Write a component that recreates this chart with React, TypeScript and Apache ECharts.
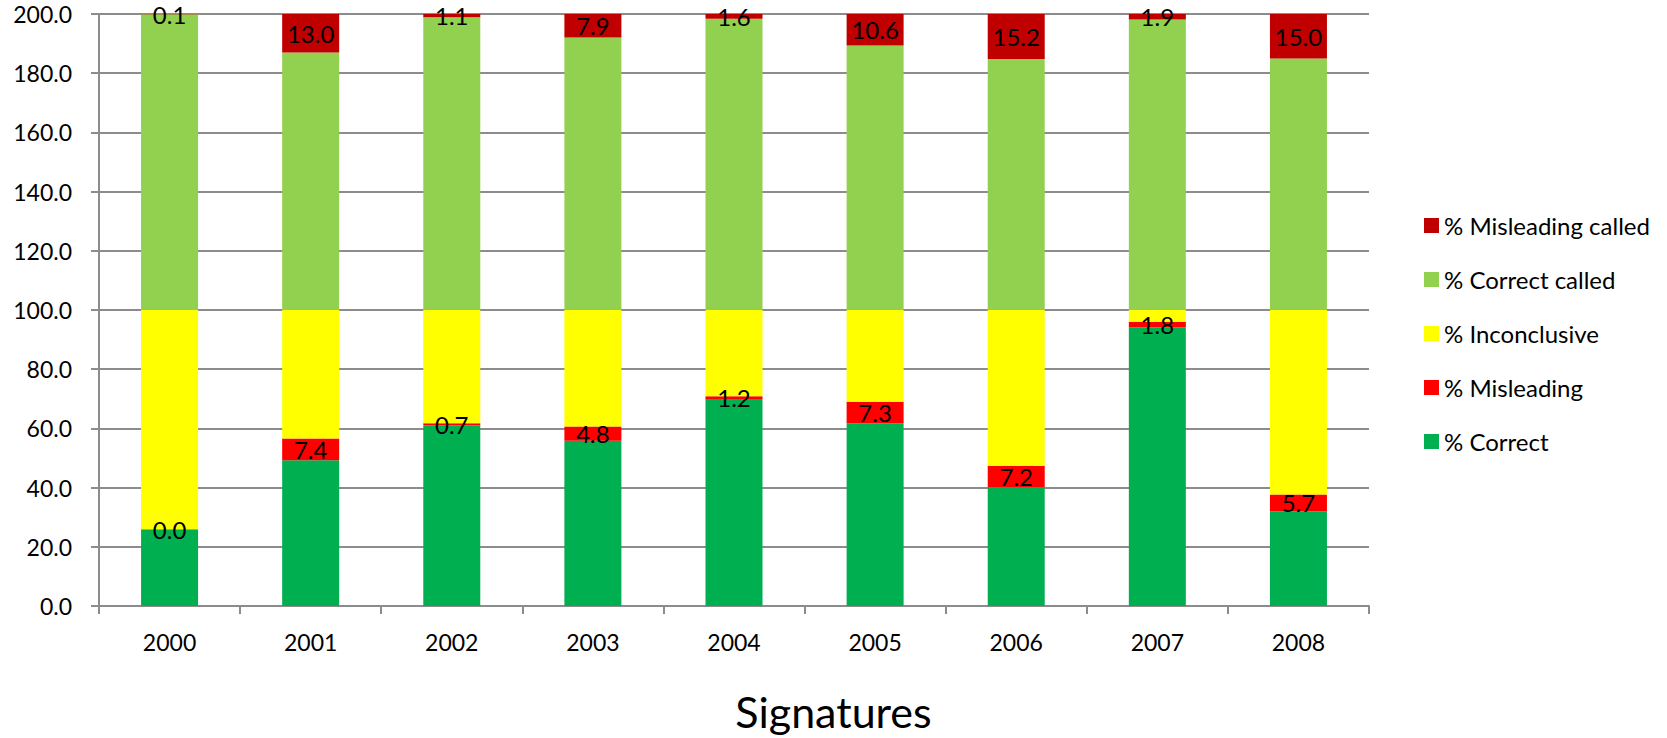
import React, { useEffect, useRef } from "react";
import * as echarts from "echarts";

const years = ["2000", "2001", "2002", "2003", "2004", "2005", "2006", "2007", "2008"];
const correct = [25.9, 49.2, 61.0, 55.8, 69.7, 61.7, 40.2, 94.2, 32.0];
const misleading = [0.0, 7.4, 0.7, 4.8, 1.2, 7.3, 7.2, 1.8, 5.7];
const inconclusive = [74.1, 43.4, 38.3, 39.4, 29.1, 31.0, 52.6, 4.0, 62.3];
const correctCalled = [99.9, 87.0, 98.9, 92.1, 98.4, 89.4, 84.8, 98.1, 85.0];
const misleadingCalled = [0.1, 13.0, 1.1, 7.9, 1.6, 10.6, 15.2, 1.9, 15.0];

const FONT = "Lato, 'Open Sans', sans-serif";
const GRAY = "#8c8c8c";

export default function App() {
  const ref = useRef<HTMLDivElement>(null);
  useEffect(() => {
    if (!ref.current) return;
    const chart = echarts.init(ref.current, null, { renderer: "svg" });
    const label = {
      show: true,
      position: "inside",
      color: "#000",
      fontFamily: FONT,
      fontSize: 24,
      formatter: (p: any) => Number(p.value).toFixed(1),
    };
    const mk = (name: string, data: number[], color: string, withLabel: boolean) => ({
      name,
      type: "bar",
      stack: "total",
      barWidth: 57,
      data,
      itemStyle: { color },
      label: withLabel ? label : { show: false },
      emphasis: { disabled: true },
    });
    chart.setOption({
      animation: false,
      backgroundColor: "#fff",
      textStyle: { fontFamily: FONT },
      grid: { left: 99, right: 298, top: 14, bottom: 132, containLabel: false },
      title: {
        text: "Signatures",
        left: "center",
        top: 686,
        padding: 0,
        textStyle: { fontFamily: FONT, fontSize: 43, lineHeight: 50, fontWeight: "normal", color: "#000" },
      },
      legend: {
        orient: "vertical",
        left: 1419,
        top: 208,
        itemWidth: 15,
        itemHeight: 15,
        itemGap: 29,
        icon: "rect",
        data: ["% Misleading called", "% Correct called", "% Inconclusive", "% Misleading", "% Correct"],
        textStyle: { fontFamily: FONT, fontSize: 24, lineHeight: 25, color: "#000", padding: [0, 0, 0, 0] },
        selectedMode: false,
      },
      xAxis: {
        type: "category",
        data: years,
        boundaryGap: true,
        axisLine: { show: true, lineStyle: { color: GRAY, width: 2 } },
        axisTick: { show: true, length: 8, alignWithLabel: false, lineStyle: { color: GRAY, width: 2 } },
        axisLabel: { color: "#000", fontFamily: FONT, fontSize: 23, margin: 24 },
        splitLine: { show: false },
      },
      yAxis: {
        type: "value",
        min: 0,
        max: 200,
        interval: 20,
        axisLine: { show: true, lineStyle: { color: GRAY, width: 2 } },
        axisTick: { show: true, length: 8, lineStyle: { color: GRAY, width: 2 } },
        axisLabel: {
          color: "#000",
          fontFamily: FONT,
          fontSize: 23,
          margin: 27,
          formatter: (v: number) => v.toFixed(1),
        },
        splitLine: { show: true, lineStyle: { color: GRAY, width: 2 } },
      },
      series: [
        mk("% Correct", correct, "#00B050", false),
        mk("% Misleading", misleading, "#FF0000", true),
        mk("% Inconclusive", inconclusive, "#FFFF00", false),
        mk("% Correct called", correctCalled, "#92D050", false),
        mk("% Misleading called", misleadingCalled, "#C00000", true),
      ],
    });
    return () => chart.dispose();
  }, []);
  return (
    <div
      ref={ref}
      style={{ position: "fixed", left: 0, top: 0, width: 1667, height: 738, background: "#fff" }}
    />
  );
}
